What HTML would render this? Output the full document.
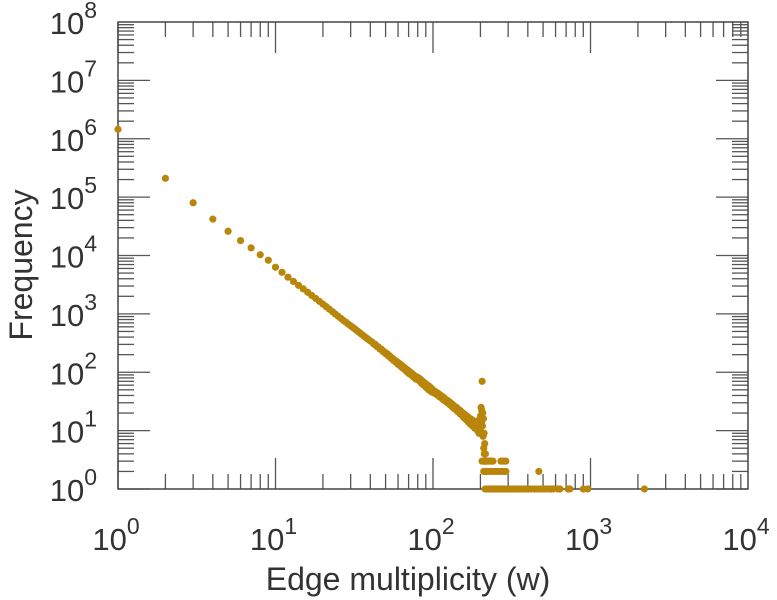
<!DOCTYPE html>
<html><head><meta charset="utf-8"><style>
body{margin:0;background:#fff;}
svg{display:block;font-family:"Liberation Sans",sans-serif;}
</style></head><body>
<svg id="chart" width="777" height="600"></svg>
<script>
// ---- data ----
const headW = [1,2,3,4,5,6,7,8,9];
const headF = [1450000,210000,80000,42000,26000,18000,13500,10300,8300];
const midStart = 10;
const midF = [6300,5150,4250,3590,3080,2680,2350,2070,1840,1640,1470,
1330,1200,1090,990,910,840,770,720,665,625,
585,548,512,482,452,428,403,382,362,343,
330,305,300,276,272,250,248,228,226,208,
210,190,192,175,176,160,163,149,152,137,
142,128,133,119,124,112,116,103,109,96,
103,92,97,86,91,81,86,76,83,75,
80,71,76,66,72,62,68,59,65,56,62,53,59,50,57,48,54,46,51,45,
48,44,47,43,45,41,44,40,42,38,41,37,39,36,38,34,37,33,35,32,34,31,33,30,32,29,31,28,30,27,29,26,28,25,27,24,26,24,25,23,25,22,24,21,23,21,22,20,22,19,
21,19,20,18,20,17,19,17,19,16,18,16,18,15,17,15,17,14,16,14,16,13,16,13,15,13,15,12,15,12,14,12,14,11,14,11,13,11,13,12,14,10,13,11,15,9,14,12,16,10,
18,25,14,22,70,12,20,8,16,5,9,4,6,3,4,2,3,2];
const tailW = [205,212,218,225,232,240,270,280,290,
210,215,222,230,240,250,260,270,280,290,470,
214,219,224,229,234,240,246,252,258,265,272,280,288,296,305,314,323,333,343,354,365,378,
390,405,420,440,460,480,500,520,545,560,580,620,640,720,740,900,960,2200];
const tailF = [3,3,3,3,3,3,3,3,3,
2,2,2,2,2,2,2,2,2,2,2,
1,1,1,1,1,1,1,1,1,1,1,1,1,1,1,1,1,1,1,1,1,1,
1,1,1,1,1,1,1,1,1,1,1,1,1,1,1,1,1,1];
const xTickExp = [0,1,2,3,4];
const yTickExp = [0,1,2,3,4,5,6,7,8];

// ---- layout ----
const L=118,R=748,T=22,B=489;
const xs = v => L + (Math.log10(v)-0)/4*(R-L);
const ys = v => B - (Math.log10(v)-0)/8*(B-T);
const NS="http://www.w3.org/2000/svg";
const svg=document.getElementById('chart');
function mk(tag,attrs,parent){const e=document.createElementNS(NS,tag);for(const k in attrs)e.setAttribute(k,attrs[k]);(parent||svg).appendChild(e);return e;}

const ticks=mk('g',{stroke:'#555','stroke-width':1.3});


for(let e=0;e<4;e++){for(let m=1;m<10;m++){const x=xs(m*Math.pow(10,e));const len=m===1?31:15;
 mk('line',{x1:x,x2:x,y1:B,y2:B-len},ticks);mk('line',{x1:x,x2:x,y1:T,y2:T+len},ticks);}}
for(let e=0;e<8;e++){for(let m=1;m<10;m++){const y=ys(m*Math.pow(10,e));const len=m===1?32:16;
 mk('line',{x1:L,x2:L+len,y1:y,y2:y},ticks);mk('line',{x1:R,x2:R-len,y1:y,y2:y},ticks);}}
const frame=mk('rect',{x:L,y:T,width:R-L,height:B-T,fill:'none',stroke:'#444','stroke-width':1.5});



xTickExp.forEach(e=>{const t=mk('text',{x:xs(Math.pow(10,e))-2,y:550,'text-anchor':'middle','font-size':31,fill:'#333'});
 
 
 t.innerHTML='10<tspan dy="-16" font-size="23">'+e+'</tspan>';});
yTickExp.forEach(e=>{const t=mk('text',{x:97,y:ys(Math.pow(10,e))+12,'text-anchor':'end','font-size':31,fill:'#333'});
 
 
 t.innerHTML='10<tspan dy="-16" font-size="23">'+e+'</tspan>';});

const xt=mk('text',{x:408,y:590,'text-anchor':'middle','font-size':32,fill:'#333'});


xt.textContent='Edge multiplicity (w)';
const yt=mk('text',{x:0,y:0,'text-anchor':'middle','font-size':32,fill:'#333',transform:'translate(32,265) rotate(-90)'});


yt.textContent='Frequency';

const pts=mk('g',{fill:'#b8860b'});


function dot(w,f){const c=mk('circle',{cx:xs(w),cy:ys(f),r:3.6},pts);
 
 }
headW.forEach((w,i)=>dot(w,headF[i]));
midF.forEach((f,i)=>dot(midStart+i,f));
tailW.forEach((w,i)=>dot(w,tailF[i]));
</script>
</body></html>
